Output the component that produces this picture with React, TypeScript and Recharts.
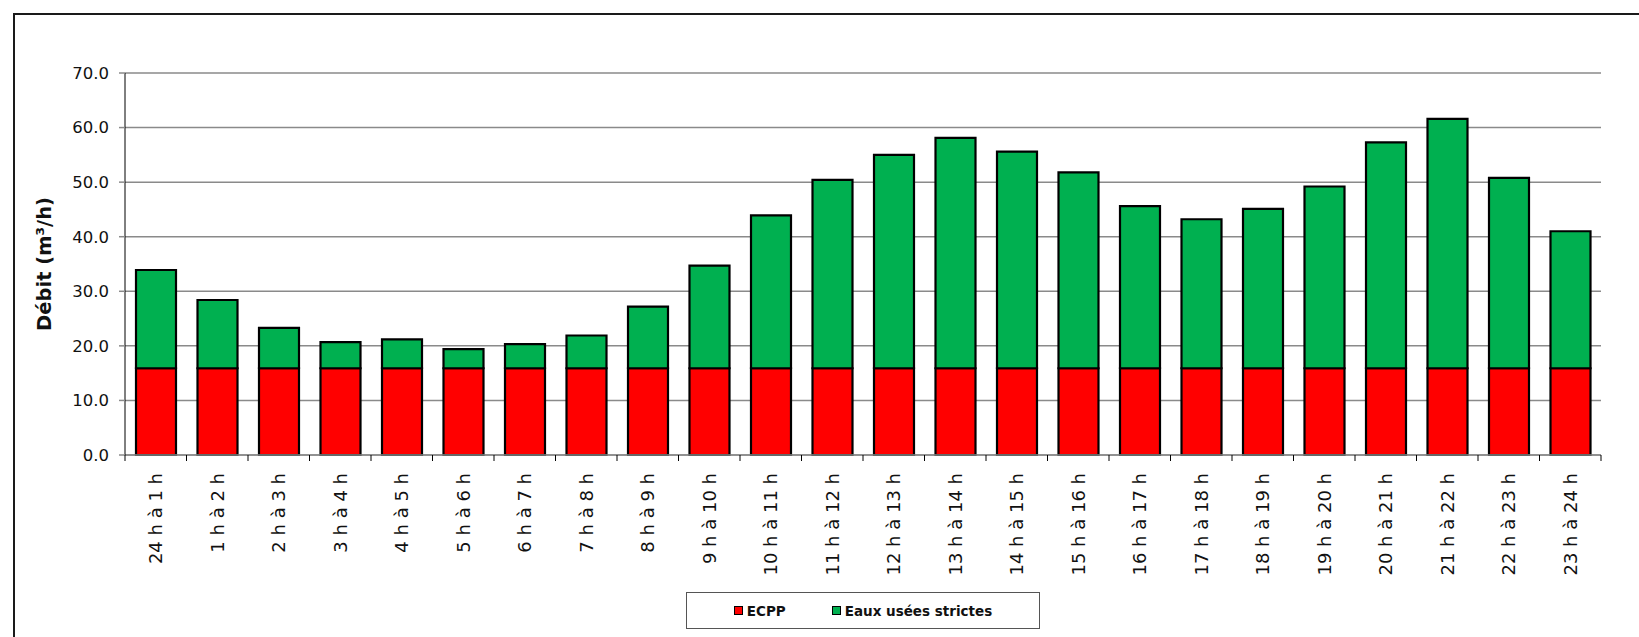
import { Bar, BarChart, CartesianGrid, Label, XAxis, YAxis } from 'recharts'

const HOURS = [
  '24 h à 1 h', '1 h à 2 h', '2 h à 3 h', '3 h à 4 h', '4 h à 5 h', '5 h à 6 h',
  '6 h à 7 h', '7 h à 8 h', '8 h à 9 h', '9 h à 10 h', '10 h à 11 h', '11 h à 12 h',
  '12 h à 13 h', '13 h à 14 h', '14 h à 15 h', '15 h à 16 h', '16 h à 17 h', '17 h à 18 h',
  '18 h à 19 h', '19 h à 20 h', '20 h à 21 h', '21 h à 22 h', '22 h à 23 h', '23 h à 24 h',
]
const ECPP = [
  15.9, 15.9, 15.9, 15.9, 15.9, 15.9, 15.9, 15.9, 15.9, 15.9, 15.9, 15.9,
  15.9, 15.9, 15.9, 15.9, 15.9, 15.9, 15.9, 15.9, 15.9, 15.9, 15.9, 15.9,
]
const EAUX_USEES = [
  18.0, 12.5, 7.4, 4.8, 5.3, 3.5, 4.4, 6.0, 11.3, 18.8, 28.0, 34.5,
  39.1, 42.2, 39.7, 35.9, 29.7, 27.3, 29.2, 33.3, 41.4, 45.7, 34.9, 25.1,
]
const Y_TICKS = [0, 10, 20, 30, 40, 50, 60, 70]

const SERIES = [
  { key: 'ecpp', name: 'ECPP', color: '#ff0000' },
  { key: 'eaux', name: 'Eaux usées strictes', color: '#00b050' },
]

const data = HOURS.map((h, i) => ({ hour: h, ecpp: ECPP[i], eaux: EAUX_USEES[i] }))

const W = 1639
const H = 637
const M = { top: 73, right: 38, left: 65, bottom: 82 }
const Y_W = 60
const X_H = 100
const PLOT_W = W - M.left - M.right - Y_W
const BAND = PLOT_W / HOURS.length
const FONT = '"DejaVu Sans", Verdana, sans-serif'

function XTick(props: any) {
  const { x, y, payload, index } = props
  const y0 = y - 18
  return (
    <g>
      <line x1={x - BAND / 2} x2={x - BAND / 2} y1={y0} y2={y0 + 6} stroke="#000" />
      {index === HOURS.length - 1 && (
        <line x1={x + BAND / 2} x2={x + BAND / 2} y1={y0} y2={y0 + 6} stroke="#000" />
      )}
      <text x={x} y={y} transform={`rotate(-90 ${x} ${y})`} textAnchor="end" dy="0.35em"
        fontSize={18} fontFamily={FONT} fill="#111">
        {payload.value}
      </text>
    </g>
  )
}

function YLabel(props: any) {
  const vb = props.viewBox
  const x = vb.x - 21
  const y = vb.y + vb.height / 2
  return (
    <text x={x} y={y} transform={`rotate(-90 ${x} ${y})`} textAnchor="middle" dy="0.35em"
      fontSize={19.5} fontWeight="bold" fontFamily={FONT} fill="#111">
      Débit (m³/h)
    </text>
  )
}

export default function App() {
  return (
    <div style={{ position: 'fixed', left: 0, top: 0, width: W, height: H, overflow: 'hidden', background: '#fff' }}>
      <div style={{ position: 'absolute', left: 13, top: 13, width: 1700, height: 700, border: '2.5px solid #1a1a1a' }} />
      <div style={{ position: 'absolute', left: 0, top: 0 }}>
        <BarChart width={W} height={H} data={data} margin={M} barSize={40}>
          <CartesianGrid vertical={false} stroke="#8a8a8a" strokeWidth={1.5} />
          <XAxis dataKey="hour" interval={0} height={X_H} tick={<XTick />} tickLine={false}
            tickSize={6} tickMargin={12} axisLine={{ stroke: '#8a8a8a', strokeWidth: 1.5 }} />
          <YAxis width={Y_W} domain={[0, 70]} ticks={Y_TICKS} interval={0}
            tickFormatter={(v: number) => v.toFixed(1)}
            tick={{ fontSize: 16.5, fontFamily: FONT, fill: '#111' }}
            tickLine={{ stroke: '#8a8a8a', strokeWidth: 1.5 }} tickSize={6} tickMargin={10}
            axisLine={{ stroke: '#000', strokeWidth: 1 }}>
            <Label content={<YLabel />} />
          </YAxis>
          {SERIES.map(s => (
            <Bar key={s.key} dataKey={s.key} name={s.name} stackId="a" fill={s.color}
              stroke="#000" strokeWidth={2.2} isAnimationActive={false} />
          ))}
        </BarChart>
      </div>
      <div style={{
        position: 'absolute', left: 686, top: 592, width: 352, height: 35, border: '1.5px solid #555',
        display: 'flex', alignItems: 'center', justifyContent: 'center', gap: 46,
        fontFamily: FONT, fontWeight: 'bold', fontSize: 13.5, color: '#111',
      }}>
        {SERIES.map(s => (
          <div key={s.key} style={{ display: 'flex', alignItems: 'center', gap: 4 }}>
            <span style={{ display: 'inline-block', width: 7, height: 7, background: s.color, border: '1.5px solid #000' }} />
            <span>{s.name}</span>
          </div>
        ))}
      </div>
    </div>
  )
}
